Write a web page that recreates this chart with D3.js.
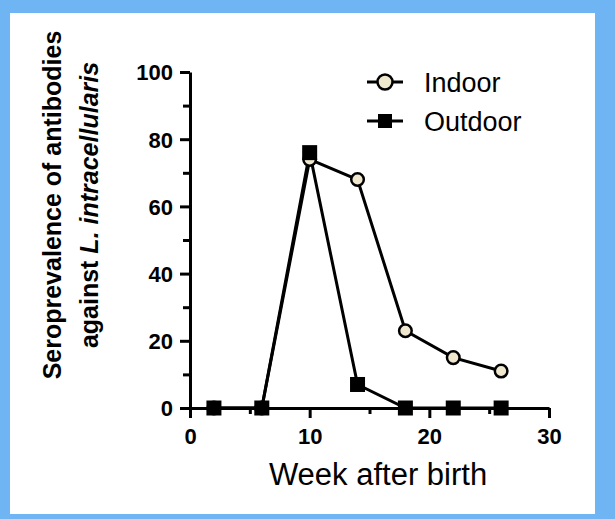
<!DOCTYPE html>
<html>
<head>
<meta charset="utf-8">
<script src="https://cdn.jsdelivr.net/npm/d3@7"></script>
<style>
  body { margin: 0; }
  svg text { font-family: "Liberation Sans", Arial, sans-serif; fill: #000; }
</style>
</head>
<body>
<div id="chart"></div>
<script>
// data
var weeks = [2, 6, 10, 14, 18, 22, 26];
var indoor = [0, 0, 74, 68, 23, 15, 11];
var outdoor = [0, 0, 76, 7, 0, 0, 0];
var seriesNames = ["Indoor", "Outdoor"];
var xTicks = [0, 10, 20, 30];
var xMinor = [5, 15, 25];
var yTicks = [0, 20, 40, 60, 80, 100];
var yMinor = [10, 30, 50, 70, 90];

var svgWidth = 615;
var svgHeight = 519;

var svg = d3.select("#chart")
    .append("svg")
    .attr("width", svgWidth)
    .attr("height", svgHeight);

// blue frame
svg.append("rect").attr("width", svgWidth).attr("height", svgHeight).attr("fill", "#6fb5f3");
svg.append("rect").attr("x", 10).attr("y", 13).attr("width", 585).attr("height", 501).attr("fill", "#fff");

var x = d3.scaleLinear().domain([0, 30]).range([190, 549]);
var y = d3.scaleLinear().domain([0, 100]).range([408, 72]);

// axes
var xAxis = svg.append("g")
    .attr("transform", `translate(0, ${y(0)})`)
    .call(d3.axisBottom(x).tickValues(xTicks).tickSize(10).tickSizeOuter(0));
xAxis.selectAll("text")
    .attr("y", 36).attr("dy", 0)
    .style("font-size", "22px").style("font-weight", "bold");

svg.append("g")
    .attr("transform", `translate(0, ${y(0)})`)
    .call(d3.axisBottom(x).tickValues(xMinor).tickSize(6).tickFormat(""))
    .call(g => g.select(".domain").remove());

var yAxis = svg.append("g")
    .attr("transform", `translate(${x(0)}, 0)`)
    .call(d3.axisLeft(y).tickValues(yTicks).tickSize(10).tickSizeOuter(0));
yAxis.selectAll("text")
    .attr("x", -17).attr("dy", "0.36em")
    .style("font-size", "22px").style("font-weight", "bold");

svg.append("g")
    .attr("transform", `translate(${x(0)}, 0)`)
    .call(d3.axisLeft(y).tickValues(yMinor).tickSize(7).tickFormat(""))
    .call(g => g.select(".domain").remove());

svg.selectAll(".domain, .tick line")
    .attr("stroke", "#000")
    .attr("stroke-width", 3);

// axis titles
svg.append("text")
    .attr("x", 378)
    .attr("y", 485)
    .attr("text-anchor", "middle")
    .style("font-size", "31px")
    .text("Week after birth");

var yTitle = svg.append("g")
    .attr("transform", "translate(0, 205) rotate(-90)")
    .style("font-size", "25px")
    .style("font-weight", "bold");
yTitle.append("text")
    .attr("y", 61)
    .attr("text-anchor", "middle")
    .text("Seroprevalence of antibodies");
var line2 = yTitle.append("text")
    .attr("y", 98)
    .attr("text-anchor", "middle");
line2.append("tspan").text("against ");
line2.append("tspan").style("font-style", "italic").text("L. intracellularis");

// series
var lineGen = d3.line()
    .x((d, i) => x(weeks[i]))
    .y(d => y(d));

svg.append("path")
    .datum(indoor)
    .attr("d", lineGen)
    .attr("fill", "none")
    .attr("stroke", "#000")
    .attr("stroke-width", 3);

svg.append("path")
    .datum(outdoor)
    .attr("d", lineGen)
    .attr("fill", "none")
    .attr("stroke", "#000")
    .attr("stroke-width", 3);

svg.append("g")
    .selectAll("circle")
    .data(indoor)
    .enter()
    .append("circle")
    .attr("cx", (d, i) => x(weeks[i]))
    .attr("cy", d => y(d))
    .attr("r", 6.3)
    .attr("fill", "#efe8cf")
    .attr("stroke", "#000")
    .attr("stroke-width", 2.5);

var sq = 15;
svg.append("g")
    .selectAll("rect")
    .data(outdoor)
    .enter()
    .append("rect")
    .attr("x", (d, i) => x(weeks[i]) - sq / 2)
    .attr("y", d => y(d) - sq / 2)
    .attr("width", sq)
    .attr("height", sq)
    .attr("fill", "#000");

// legend
var legendY = [82, 121];
var legend = svg.append("g")
    .selectAll("g")
    .data(seriesNames)
    .enter()
    .append("g")
    .attr("transform", (d, i) => `translate(385, ${legendY[i]})`);

legend.append("line")
    .attr("x1", -18).attr("x2", 18)
    .attr("stroke", "#000")
    .attr("stroke-width", 3);

legend.filter((d, i) => i === 0)
    .append("circle")
    .attr("r", 7.5)
    .attr("fill", "#efe8cf")
    .attr("stroke", "#000")
    .attr("stroke-width", 2.5);

legend.filter((d, i) => i === 1)
    .append("rect")
    .attr("x", -7).attr("y", -7)
    .attr("width", 14).attr("height", 14)
    .attr("fill", "#000");

legend.append("text")
    .attr("x", 39)
    .attr("y", 9.5)
    .style("font-size", "27px")
    .text(d => d);
</script>
</body>
</html>
